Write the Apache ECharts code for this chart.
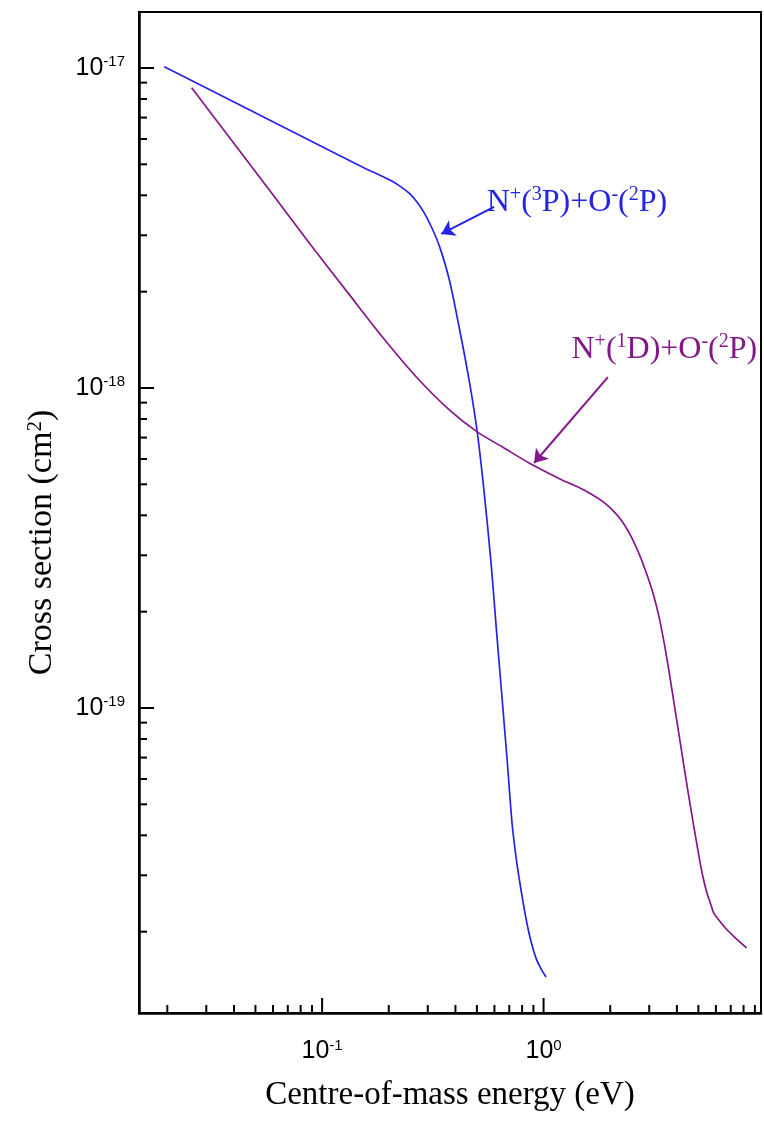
<!DOCTYPE html>
<html>
<head>
<meta charset="utf-8">
<script src="https://cdn.jsdelivr.net/npm/echarts@6/dist/echarts.min.js"></script>
<style>
html,body{margin:0;padding:0;background:#fff;}
#chart{width:764px;height:1122px;}
</style>
</head>
<body>
<div id="chart"></div>
<script>
// ---- data ----
const energyBlue = [0.01938, 0.04714, 0.10808, 0.16000, 0.18155, 0.20557, 0.23046, 0.25037, 0.26929, 0.28949, 0.31132, 0.33827, 0.37531, 0.41628, 0.46179, 0.50171, 0.53954, 0.58019, 0.61108, 0.64665, 0.68467, 0.72110, 0.75186, 0.77560, 0.80844, 0.84273, 0.87857, 0.92524, 0.97441, 1.0263];
const sigmaBlue  = [1.009e-17, 7.39e-18, 5.52e-18, 4.82e-18, 4.63e-18, 4.44e-18, 4.22e-18, 4.03e-18, 3.80e-18, 3.52e-18, 3.19e-18, 2.78e-18, 2.18e-18, 1.54e-18, 1.052e-18, 7.29e-19, 4.70e-19, 2.80e-19, 1.79e-19, 1.114e-19, 6.88e-20, 4.34e-20, 3.40e-20, 2.94e-20, 2.47e-20, 2.11e-20, 1.86e-20, 1.65e-20, 1.53e-20, 1.443e-20];

const energyPurple = [0.02576, 0.03831, 0.05801, 0.08785, 0.13300, 0.18727, 0.26650, 0.37531, 0.50171, 0.65001, 0.86025, 1.2115, 1.4155, 1.6535, 1.8735, 2.1210, 2.3046, 2.5039, 2.7493, 2.9874, 3.1466, 3.3140, 3.4903, 3.6761, 4.0768, 4.5217, 5.0171, 5.2299, 5.4513, 5.6840, 5.8636, 6.2393, 6.6385, 7.3637, 8.2540];
const sigmaPurple  = [8.68e-18, 6.04e-18, 4.14e-18, 2.83e-18, 1.954e-18, 1.443e-18, 1.082e-18, 8.54e-19, 7.29e-19, 6.55e-19, 5.83e-19, 5.16e-19, 4.92e-19, 4.65e-19, 4.39e-19, 4.05e-19, 3.76e-19, 3.40e-19, 2.94e-19, 2.51e-19, 2.24e-19, 1.94e-19, 1.62e-19, 1.315e-19, 8.36e-20, 5.31e-20, 3.48e-20, 2.99e-20, 2.66e-20, 2.44e-20, 2.29e-20, 2.16e-20, 2.05e-20, 1.91e-20, 1.78e-20];

const xRange = [0.0149, 9.59];
const yRange = [1.114e-20, 1.496e-17];

const xMajorTicks = [0.1, 1];
const xMinorTicks = [0.02, 0.03, 0.04, 0.05, 0.06, 0.07, 0.08, 0.09,
                     0.2, 0.3, 0.4, 0.5, 0.6, 0.7, 0.8, 0.9,
                     2, 3, 4, 5, 6, 7, 8, 9];
const yMajorTicks = [1e-19, 1e-18, 1e-17];
const yMinorTicks = [2e-20, 3e-20, 4e-20, 5e-20, 6e-20, 7e-20, 8e-20, 9e-20,
                     2e-19, 3e-19, 4e-19, 5e-19, 6e-19, 7e-19, 8e-19, 9e-19,
                     2e-18, 3e-18, 4e-18, 5e-18, 6e-18, 7e-18, 8e-18, 9e-18];

// annotation anchors (data units)
const blueLabelAt   = [0.551, 3.785e-18];
const blueArrow     = [[0.598, 3.68e-18], [0.3454, 3.03e-18]];
const purpleLabelAt = [1.330, 1.315e-18];
const purpleArrow   = [[1.952, 1.082e-18], [0.906, 5.83e-19]];

const blueLabelText   = '{n|N}{s|+}{n|(}{s|3}{n|P)+O}{s|-}{n|(}{s|2}{n|P)}';
const purpleLabelText = '{n|N}{s|+}{n|(}{s|1}{n|D)+O}{s|-}{n|(}{s|2}{n|P)}';

const xTitle = 'Centre-of-mass energy (eV)';
const yTitle = 'Cross section (cm{s|2})';

// ---- build ----
const BLUE = '#2424e4';
const PURPLE = '#84188a';
const SERIF = '"Liberation Serif","Times New Roman",serif';
const SANS = '"Liberation Sans",Arial,sans-serif';

function zip(a, b) { return a.map((v, i) => [v, b[i]]); }

function powLabelFor(majors) {
  return function (value) {
    const hit = majors.find(m => Math.abs(value / m - 1) < 1e-6);
    if (hit === undefined) return '';
    return '{b|10}{s|' + Math.round(Math.log10(hit)) + '}';
  };
}
const tickRich = {
  b: { fontFamily: SANS, fontSize: 25, color: '#000', lineHeight: 27 },
  s: { fontFamily: SANS, fontSize: 15, color: '#000', verticalAlign: 'top' }
};

const xTickData = xMajorTicks.map(v => [v, yRange[0], 1]).concat(xMinorTicks.map(v => [v, yRange[0], 0]));
const yTickData = yMajorTicks.map(v => [xRange[0], v, 1]).concat(yMinorTicks.map(v => [xRange[0], v, 0]));

function labelRich(color) {
  return {
    n: { fontFamily: SERIF, fontSize: 32, color: color, lineHeight: 36 },
    s: { fontFamily: SERIF, fontSize: 20, color: color, verticalAlign: 'top' }
  };
}

const chart = echarts.init(document.getElementById('chart'), null, { renderer: 'canvas' });
chart.setOption({
  animation: false,
  backgroundColor: '#fff',
  grid: { left: 139, top: 12, width: 623.5, height: 1001, show: true, borderColor: '#000', borderWidth: 2, backgroundColor: 'transparent' },
  xAxis: {
    type: 'log', logBase: 10, min: xRange[0], max: xRange[1],
    axisLine: { show: true, onZero: false, lineStyle: { color: '#000', width: 2.5 } },
    axisTick: { show: false },
    splitLine: { show: false },
    minorTick: { show: false },
    axisLabel: { formatter: powLabelFor(xMajorTicks), rich: tickRich, margin: 25 },
    name: xTitle, nameLocation: 'middle', nameGap: 66,
    nameTextStyle: { fontFamily: SERIF, fontSize: 33, color: '#000' }
  },
  yAxis: {
    type: 'log', logBase: 10, min: yRange[0], max: yRange[1],
    axisLine: { show: true, onZero: false, lineStyle: { color: '#000', width: 2.5 } },
    axisTick: { show: false },
    splitLine: { show: false },
    minorTick: { show: false },
    axisLabel: { formatter: powLabelFor(yMajorTicks), rich: tickRich, margin: 14 },
    name: yTitle, nameLocation: 'middle', nameGap: 80,
    nameTextStyle: {
      fontFamily: SERIF, fontSize: 34, color: '#000', padding: [0, 60, 0, 0],
      rich: { s: { fontFamily: SERIF, fontSize: 21, color: '#000', verticalAlign: 'top' } }
    }
  },
  series: [
    {
      type: 'custom', silent: true, z: 5,
      data: xTickData,
      renderItem: function (params, api) {
        const cs = params.coordSys;
        const p = api.coord([api.value(0), api.value(1)]);
        const len = api.value(2) ? 15 : 8;
        const y0 = cs.y + cs.height;
        return { type: 'line', shape: { x1: p[0], y1: y0, x2: p[0], y2: y0 - len }, style: { stroke: '#000', lineWidth: 2 } };
      }
    },
    {
      type: 'custom', silent: true, z: 5,
      data: yTickData,
      renderItem: function (params, api) {
        const cs = params.coordSys;
        const p = api.coord([api.value(0), api.value(1)]);
        const len = api.value(2) ? 15 : 8;
        const x0 = cs.x;
        return { type: 'line', shape: { x1: x0, y1: p[1], x2: x0 + len, y2: p[1] }, style: { stroke: '#000', lineWidth: 2 } };
      }
    },
    {
      name: 'N+(3P)+O-(2P)', type: 'line', smooth: 0.3, showSymbol: false, silent: true,
      data: zip(energyBlue, sigmaBlue),
      lineStyle: { color: BLUE, width: 1.7 },
      markPoint: {
        silent: true, symbol: 'circle', symbolSize: 1, itemStyle: { color: 'rgba(0,0,0,0)' },
        data: [{ coord: blueLabelAt }],
        label: { show: true, position: 'right', distance: 0, formatter: blueLabelText, rich: labelRich(BLUE) }
      },
      markLine: {
        silent: true, symbol: ['none', 'arrow'], symbolSize: 13,
        lineStyle: { color: BLUE, width: 2, type: 'solid' },
        itemStyle: { color: BLUE },
        label: { show: false },
        data: [[{ coord: blueArrow[0] }, { coord: blueArrow[1] }]]
      }
    },
    {
      name: 'N+(1D)+O-(2P)', type: 'line', smooth: 0.3, showSymbol: false, silent: true,
      data: zip(energyPurple, sigmaPurple),
      lineStyle: { color: PURPLE, width: 1.7 },
      markPoint: {
        silent: true, symbol: 'circle', symbolSize: 1, itemStyle: { color: 'rgba(0,0,0,0)' },
        data: [{ coord: purpleLabelAt }],
        label: { show: true, position: 'right', distance: 0, formatter: purpleLabelText, rich: labelRich(PURPLE) }
      },
      markLine: {
        silent: true, symbol: ['none', 'arrow'], symbolSize: 13,
        lineStyle: { color: PURPLE, width: 2, type: 'solid' },
        itemStyle: { color: PURPLE },
        label: { show: false },
        data: [[{ coord: purpleArrow[0] }, { coord: purpleArrow[1] }]]
      }
    }
  ]
});
</script>
</body>
</html>
